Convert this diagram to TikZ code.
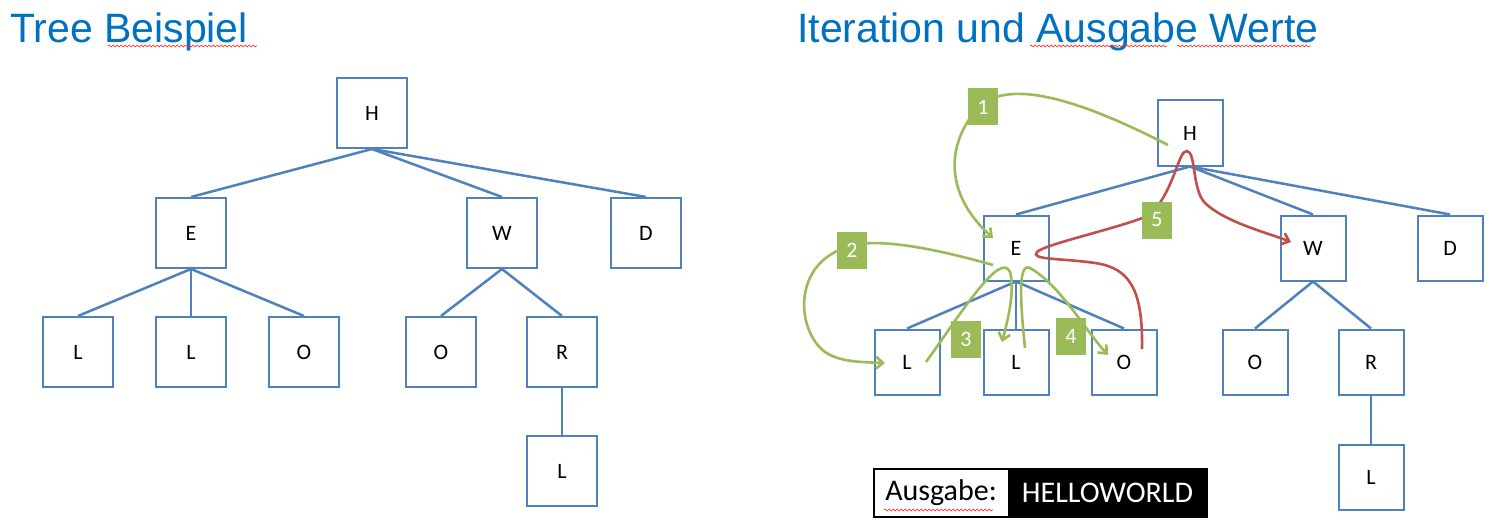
\documentclass[tikz,border=0pt]{standalone}
\usepackage{fontspec}
\setmainfont{Liberation Sans}
\newfontfamily\calib{Carlito}
\usetikzlibrary{arrows.meta,decorations.pathmorphing,calc}
\definecolor{boxblue}{HTML}{4F81BD}
\definecolor{titleblue}{HTML}{0070C0}
\definecolor{lgreen}{HTML}{9BBB59}
\definecolor{dred}{HTML}{C0504D}
\begin{document}
\begin{tikzpicture}[x=1pt,y=-1pt,
  tbox/.style={draw=boxblue,line width=2pt,fill=white,minimum size=#1,inner sep=0pt,font=\calib\fontsize{22}{22}\selectfont},
  tbox/.default=70,
  edge/.style={draw=boxblue,line width=2.5pt},
  title/.style={anchor=base west,text=titleblue,inner sep=0pt,font=\fontsize{41}{41}\selectfont},
  glabel/.style={fill=lgreen,text=white,minimum width=30,minimum height=37,inner sep=0pt,font=\calib\fontsize{22}{22}\selectfont},
  garrow/.style={draw=lgreen,line width=2.6pt,-{Straight Barb[length=7pt,width=12pt]}},
  rarrow/.style={draw=dred,line width=2.6pt,-{Straight Barb[length=7pt,width=12pt]}},
  outtext/.style={minimum height=48,inner sep=0pt,font=\calib\fontsize{30}{30}\selectfont},
  squig/.style={draw=red!80,line width=0.7pt,decorate,decoration={snake,amplitude=0.9pt,segment length=4pt}}]
\useasboundingbox (0,0) rectangle (1509,532);
\fill[white] (0,0) rectangle (1509,532);

% titles
\node[title] (t1) at (10,43) {Tree Beispiel};
\node[title] (t2) at (797,43) {Iteration und Ausgabe Werte};
\draw[squig] (108,46) -- (257,46);
\draw[squig] (1030,46) -- (1167,46);
\draw[squig] (1177,46) -- (1311,46);

% left tree
\node[tbox] (lH) at (372,113) {H};
\node[tbox] (lE) at (191,233) {E};
\node[tbox] (lW) at (502,233) {W};
\node[tbox] (lD) at (646,233) {D};
\node[tbox] (lL1) at (78,352) {L};
\node[tbox] (lL2) at (191,352) {L};
\node[tbox] (lO1) at (304,352) {O};
\node[tbox] (lO2) at (441,352) {O};
\node[tbox] (lR) at (562,352) {R};
\node[tbox] (lL3) at (562,471) {L};
\draw[edge] (lH.south) -- (lE.north);
\draw[edge] (lH.south) -- (lW.north);
\draw[edge] (lH.south) -- (lD.north);
\draw[edge] (lE.south) -- (lL1.north);
\draw[edge] (lE.south) -- (lL2.north);
\draw[edge] (lE.south) -- (lO1.north);
\draw[edge] (lW.south) -- (lO2.north);
\draw[edge] (lW.south) -- (lR.north);
\draw[edge] (lR.south) -- (lL3.north);

% right tree
\node[tbox=65] (rH) at (1190,133) {H};
\node[tbox=65] (rE) at (1016,248) {E};
\node[tbox=65] (rW) at (1313,248) {W};
\node[tbox=65] (rD) at (1450,248) {D};
\node[tbox=65] (rL1) at (907,362) {L};
\node[tbox=65] (rL2) at (1016,362) {L};
\node[tbox=65] (rO1) at (1124,362) {O};
\node[tbox=65] (rO2) at (1255,362) {O};
\node[tbox=65] (rR) at (1371,362) {R};
\node[tbox=65] (rL3) at (1371,477) {L};
\draw[edge] (rH.south) -- (rE.north);
\draw[edge] (rH.south) -- (rW.north);
\draw[edge] (rH.south) -- (rD.north);
\draw[edge] (rE.south) -- (rL1.north);
\draw[edge] (rE.south) -- (rL2.north);
\draw[edge] (rE.south) -- (rO1.north);
\draw[edge] (rW.south) -- (rO2.north);
\draw[edge] (rW.south) -- (rR.north);
\draw[edge] (rR.south) -- (rL3.north);

% traversal arrows
\draw[garrow] ($(rH.center)+(-22,12)$) .. controls (1090,105) and (1010,75) .. (978,108)
   .. controls (945,145) and (945,195) .. ($(rE.center)+(-23,-10)$);
\draw[garrow] ($(rE.center)+(-23,17)$) .. controls (940,250) and (890,240) .. (860,244)
   .. controls (790,255) and (795,330) .. (825,352)
   .. controls (840,362) and (860,362) .. ($(rL1.center)+(-22,1)$);
\draw[garrow] ($(rL1.center)+(19,0)$) .. controls (960,315) and (1000,250) .. (1010,272)
   .. controls (1015,290) and (1008,320) .. ($(rL2.center)+(-14,-20)$);
\draw[garrow] ($(rL2.center)+(9,-14)$) .. controls (1020,300) and (1018,262) .. (1030,268)
   .. controls (1060,285) and (1085,330) .. ($(rO1.center)+(-16,-7)$);
\draw[rarrow] ($(rO1.center)+(18,-13)$) .. controls (1143,290) and (1130,268) .. (1095,263)
   .. controls (1060,258) and (1030,260) .. (1037,252)
   .. controls (1045,244) and (1120,228) .. (1150,215)
   .. controls (1175,190) and (1178,150) .. (1187,151)
   .. controls (1196,152) and (1192,190) .. (1205,203)
   .. controls (1225,222) and (1265,232) .. ($(rW.center)+(-22,-6)$);

% step labels
\node[glabel] (g1) at (983,107) {1};
\node[glabel] (g2) at (852,250) {2};
\node[glabel] (g3) at (966,339) {3};
\node[glabel] (g4) at (1071,336) {4};
\node[glabel] (g5) at (1157,220) {5};

% output box
\node[outtext,fill=white,minimum width=134] (outl) at (941,493) {Ausgabe:};
\node[outtext,fill=black,text=white,minimum width=199] (outr) at (1107.5,493) {HELLOWORLD};
\draw[black,line width=1.5pt] (outl.north west) rectangle (outr.south east);
\draw[squig] (884,510) -- (993,510);
\end{tikzpicture}
\end{document}
